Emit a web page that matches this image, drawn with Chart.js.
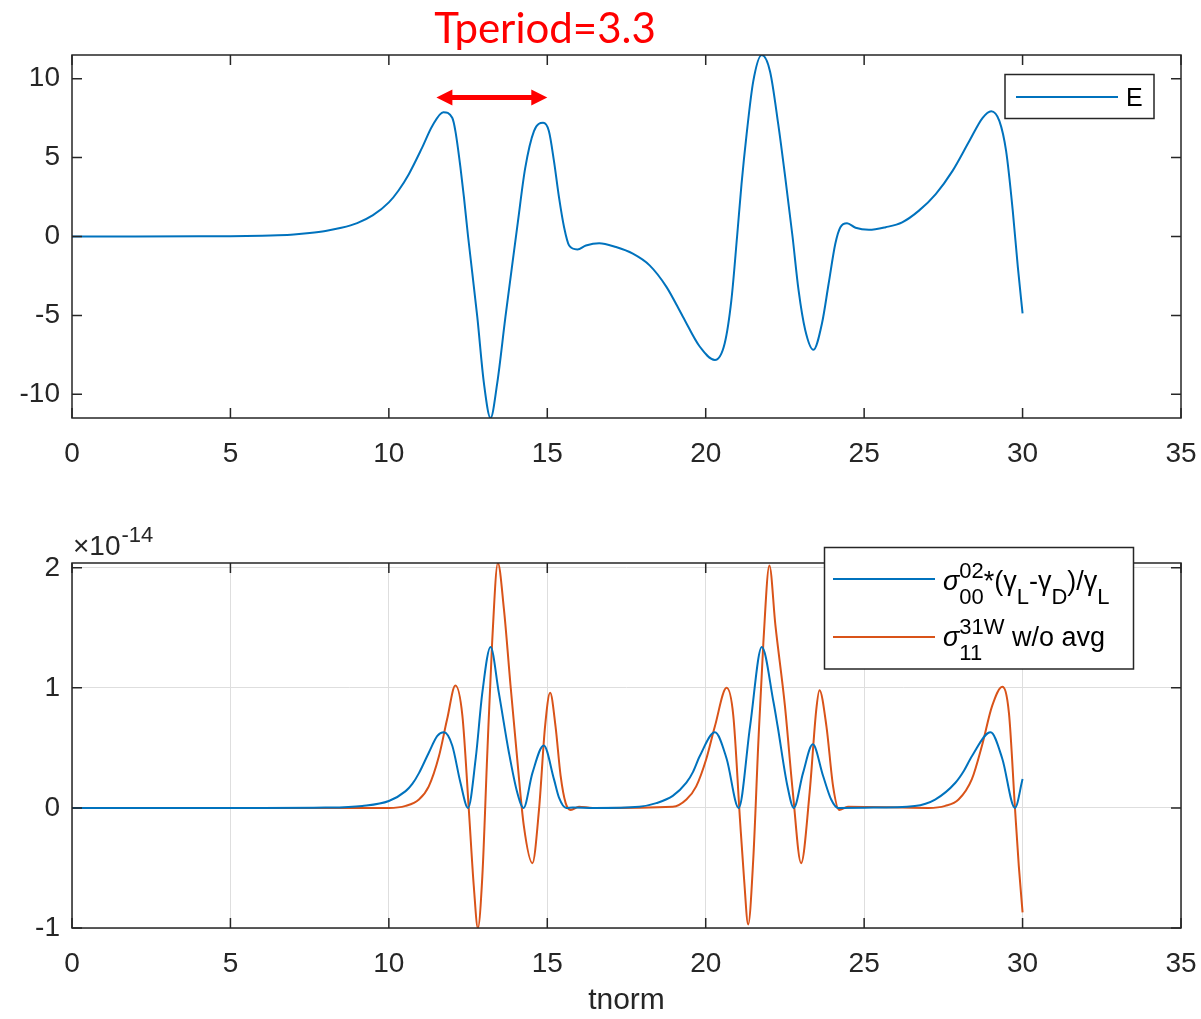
<!DOCTYPE html>
<html>
<head>
<meta charset="utf-8">
<script src="https://cdn.jsdelivr.net/npm/chart.js@4.4.1/dist/chart.umd.min.js"></script>
<style>
  html, body { margin: 0; padding: 0; background: #fff; }
  #wrap { position: relative; width: 1201px; height: 1019px; }
  .panel { position: absolute; left: 0; width: 1201px; }
  #top { top: 0; height: 500px; }
  #bottom { top: 500px; height: 519px; }
</style>
</head>
<body>
<div id="wrap">
  <div class="panel" id="top"><canvas id="fieldChart" width="1201" height="500"></canvas></div>
  <div class="panel" id="bottom"><canvas id="sigmaChart" width="1201" height="519"></canvas></div>
</div>
<script>
// field E against tnorm
const tField = [0, 2, 4, 5, 6, 6.5, 7, 7.5, 8, 8.5, 9, 9.5, 10, 10.3, 10.63, 11.05, 11.37, 11.72, 12.0,
  12.1, 12.26, 12.37, 12.5, 12.79, 13.0, 13.21, 13.42, 13.68, 13.88, 14.07, 14.3, 14.58, 14.87, 15.05,
  15.21, 15.37, 15.53, 15.69, 15.95, 16.22, 16.64, 17.17, 17.7, 18.23, 18.76, 19.28, 19.81, 20.29,
  20.6, 20.81, 20.99, 21.13, 21.29, 21.5, 21.77, 22.03, 22.29, 22.51, 22.74, 22.93, 23.14, 23.4,
  23.67, 23.88, 24.09, 24.25, 24.46, 24.73, 25.15, 25.68, 26.2, 26.73, 27.26, 27.79, 28.32, 28.74,
  29.01, 29.27, 29.48, 29.69, 29.85, 30];
const eField = [0, 0, 0.01, 0.02, 0.05, 0.08, 0.13, 0.22, 0.35, 0.55, 0.85, 1.35, 2.16, 2.9, 3.95, 5.63,
  7.0, 7.88, 7.52, 6.68, 4.37, 2.48, 0, -5.08, -9.29, -11.5, -9.29, -5.08, -2.0, 0.9, 4.3, 6.68,
  7.2, 6.68, 4.79, 2.48, 0.59, -0.57, -0.82, -0.57, -0.42, -0.67, -1.09, -1.83, -3.19, -5.08,
  -6.97, -7.82, -6.76, -4.03, 0, 3.32, 6.47, 9.83, 11.5, 10.46, 7.1, 3.74, 0, -3.4, -5.92, -7.18,
  -5.5, -2.98, -0.46, 0.59, 0.84, 0.55, 0.42, 0.59, 0.9, 1.64, 2.69, 4.16, 6.05, 7.52, 7.94, 7.31,
  5.42, 1.64, -1.93, -4.87];

// sigma00^02*(gL-gD)/gL, in units of 1e-14
const tSigma00 = [0, 6, 8, 9.16, 10, 10.53, 10.74, 10.95, 11.26, 11.53, 11.74, 12.0, 12.26, 12.5, 12.74,
  12.95, 13.21, 13.47, 13.79, 14.05, 14.25, 14.53, 14.89, 15.21, 15.37, 15.6, 15.8, 16.5, 17.9, 18.44,
  18.96, 19.39, 19.6, 19.81, 20.29, 20.66, 21.04, 21.4, 21.77, 22.14, 22.27, 22.58, 22.78, 23.07,
  23.38, 23.7, 23.96, 24.18, 25, 26.6, 27.24, 27.88, 28.15, 28.4, 28.99, 29.36, 29.76, 30];
const sigma00 = [0, 0, 0.003, 0.017, 0.058, 0.14, 0.2, 0.29, 0.46, 0.6, 0.63, 0.52, 0.21, 0, 0.41,
  0.96, 1.34, 0.96, 0.46, 0.13, 0, 0.29, 0.52, 0.24, 0.086, 0, 0.003, 0, 0.01, 0.04,
  0.1, 0.21, 0.3, 0.43, 0.63, 0.41, 0, 0.68, 1.34, 0.88, 0.68, 0.18, 0, 0.29,
  0.53, 0.27, 0.07, 0, 0.002, 0.017, 0.07, 0.21, 0.31, 0.43, 0.63, 0.41, 0, 0.24];

// sigma11^31W without averaging, in units of 1e-14
const tSigma11 = [0, 9, 10, 10.53, 10.95, 11.26, 11.58, 11.84, 12.1, 12.32, 12.53, 12.68, 12.81, 12.95,
  13.1, 13.26, 13.44, 13.63, 13.84, 14.05, 14.26, 14.53, 14.74, 14.93, 15.09, 15.26, 15.42, 15.58,
  15.74, 16.0, 16.43, 18.96, 19.39, 19.7, 20.02, 20.29, 20.66, 20.87, 21.08, 21.21, 21.34, 21.5,
  21.66, 21.82, 22.01, 22.2, 22.5, 22.75, 23.01, 23.28, 23.49, 23.59, 23.81, 24.02, 24.21, 24.49,
  27.03, 27.56, 27.98, 28.4, 28.72, 29.04, 29.36, 29.57, 29.76, 29.88, 30];
const sigma11 = [0, 0, 0, 0.017, 0.07, 0.18, 0.43, 0.74, 1.02, 0.77, -0.04, -0.65, -1.0, -0.57,
  0.41, 1.38, 2.04, 1.66, 1.02, 0.41, -0.15, -0.46, -0.01, 0.68, 0.96, 0.68, 0.27, 0.04,
  -0.017, 0.01, 0, 0.01, 0.07, 0.18, 0.41, 0.68, 1.0, 0.77, -0.09, -0.59, -0.97, -0.43,
  0.54, 1.38, 2.02, 1.52, 0.85, 0.13, -0.46, 0.13, 0.82, 0.98, 0.68, 0.18, -0.017, 0.01,
  0, 0.017, 0.07, 0.24, 0.52, 0.85, 1.01, 0.79, 0, -0.48, -0.87];

const xRange = [0, 35];
const fieldRange = [-11.5, 11.5];
const sigmaRange = [-1, 2.04];
const periodLabel = 'Tperiod=3.3';
const periodArrow = { from: 11.5, to: 15.0, level: 8.8 };

const BLUE = '#0072BD';
const ORANGE = '#D95319';
const INK = '#262626';
const FONT = '"Liberation Sans", Arial, sans-serif';

function pts(xs, ys) { return xs.map((x, i) => ({ x: x, y: ys[i] })); }

// box around the plot area with inward ticks on all four sides
const axesBox = {
  id: 'axesBox',
  afterDatasetsDraw(chart) {
    const { ctx, chartArea: a, scales: { x, y } } = chart;
    const len = 10;
    ctx.save();
    ctx.strokeStyle = INK;
    ctx.lineWidth = 1.5;
    ctx.beginPath();
    x.ticks.forEach(t => {
      const px = x.getPixelForValue(t.value);
      ctx.moveTo(px, a.bottom); ctx.lineTo(px, a.bottom - len);
      ctx.moveTo(px, a.top); ctx.lineTo(px, a.top + len);
    });
    y.ticks.forEach(t => {
      const py = y.getPixelForValue(t.value);
      ctx.moveTo(a.left, py); ctx.lineTo(a.left + len, py);
      ctx.moveTo(a.right, py); ctx.lineTo(a.right - len, py);
    });
    ctx.stroke();
    ctx.strokeRect(a.left, a.top, a.right - a.left, a.bottom - a.top);
    ctx.restore();
  }
};

function legendFrame(ctx, x, y, w, h) {
  ctx.fillStyle = '#fff';
  ctx.fillRect(x, y, w, h);
  ctx.strokeStyle = INK;
  ctx.lineWidth = 1.5;
  ctx.strokeRect(x, y, w, h);
}

function legendLine(ctx, x0, x1, y, color) {
  ctx.strokeStyle = color;
  ctx.lineWidth = 2;
  ctx.beginPath();
  ctx.moveTo(x0, y); ctx.lineTo(x1, y);
  ctx.stroke();
}

// text with TeX-like stacked super/subscripts
function drawRich(ctx, x, base, runs) {
  const main = '27px ' + FONT, ital = 'italic 27px ' + FONT, script = '22px ' + FONT;
  runs.forEach(r => {
    if (r.sup !== undefined || r.sub !== undefined) {
      ctx.font = script;
      let w = 0;
      if (r.sup) { ctx.fillText(r.sup, x, base - 12); w = ctx.measureText(r.sup).width; }
      if (r.sub) { ctx.fillText(r.sub, x, base + 14); w = Math.max(w, ctx.measureText(r.sub).width); }
      x += w;
    } else {
      ctx.font = r.italic ? ital : main;
      ctx.fillText(r.text, x, base);
      x += ctx.measureText(r.text).width;
    }
  });
}

const fieldDecor = {
  id: 'fieldDecor',
  afterDraw(chart) {
    const { ctx, scales: { x, y } } = chart;
    ctx.save();
    // period annotation
    ctx.fillStyle = '#FF0000';
    ctx.font = '42px Lato, "Noto Sans", sans-serif';
    ctx.textAlign = 'center';
    ctx.textBaseline = 'alphabetic';
    ctx.fillText(periodLabel, 545, 43);
    const x0 = x.getPixelForValue(periodArrow.from);
    const x1 = x.getPixelForValue(periodArrow.to);
    const py = y.getPixelForValue(periodArrow.level);
    const head = 16, half = 8;
    ctx.strokeStyle = '#FF0000';
    ctx.lineWidth = 5;
    ctx.beginPath();
    ctx.moveTo(x0 + head - 2, py); ctx.lineTo(x1 - head + 2, py);
    ctx.stroke();
    ctx.beginPath();
    ctx.moveTo(x0, py); ctx.lineTo(x0 + head, py - half); ctx.lineTo(x0 + head, py + half); ctx.closePath();
    ctx.moveTo(x1, py); ctx.lineTo(x1 - head, py - half); ctx.lineTo(x1 - head, py + half); ctx.closePath();
    ctx.fill();
    // legend
    legendFrame(ctx, 1005, 74.5, 149, 44);
    legendLine(ctx, 1016, 1118, 97, BLUE);
    ctx.fillStyle = '#000';
    ctx.font = '25px ' + FONT;
    ctx.textAlign = 'left';
    ctx.fillText('E', 1126, 106);
    ctx.restore();
  }
};

const sigmaDecor = {
  id: 'sigmaDecor',
  afterDraw(chart) {
    const { ctx } = chart;
    ctx.save();
    ctx.fillStyle = INK;
    ctx.textBaseline = 'alphabetic';
    ctx.textAlign = 'left';
    ctx.font = '28px ' + FONT;
    ctx.fillText('\u00d710', 73, 55);
    const w = ctx.measureText('\u00d710').width;
    ctx.font = '22px ' + FONT;
    ctx.fillText('-14', 73 + w + 1, 42);
    // legend
    legendFrame(ctx, 824.5, 47.5, 309, 121.5);
    legendLine(ctx, 833, 935, 79, BLUE);
    legendLine(ctx, 833, 935, 137, ORANGE);
    ctx.fillStyle = '#000';
    drawRich(ctx, 943, 90, [
      { text: '\u03c3', italic: true }, { sup: '02', sub: '00' }, { text: '*(\u03b3' }, { sub: 'L' },
      { text: '-\u03b3' }, { sub: 'D' }, { text: ')/\u03b3' }, { sub: 'L' }
    ]);
    drawRich(ctx, 943, 146, [
      { text: '\u03c3', italic: true }, { sup: '31W', sub: '11' }, { text: ' w/o avg' }
    ]);
    ctx.restore();
  }
};

function xAxis(height, withGrid, title) {
  return {
    type: 'linear', min: xRange[0], max: xRange[1],
    grid: { display: withGrid, drawTicks: false, color: '#dedede', lineWidth: 1 },
    border: { display: false },
    ticks: { stepSize: 5, autoSkip: false, maxRotation: 0, padding: 19, color: INK,
      font: { family: FONT, size: 28 } },
    title: title ? { display: true, text: title, color: INK, font: { family: FONT, size: 30 },
      padding: { top: 0, bottom: 0 } } : { display: false },
    afterFit(scale) {
      scale.height = height;
      scale.paddingLeft = 0;
      scale.paddingRight = 0;
    }
  };
}

function yAxis(range, withGrid) {
  return {
    type: 'linear', min: range[0], max: range[1],
    grid: { display: withGrid, drawTicks: false, color: '#dedede', lineWidth: 1 },
    border: { display: false },
    ticks: { stepSize: range[1] > 5 ? 5 : 1, includeBounds: false, padding: 12, color: INK,
      font: { family: FONT, size: 28 } },
    afterFit(scale) { scale.width = 72; }
  };
}

const line = (label, data, color) => ({
  label: label, data: data, borderColor: color, borderWidth: 2,
  pointRadius: 0, fill: false, cubicInterpolationMode: 'monotone'
});

new Chart(document.getElementById('fieldChart'), {
  type: 'line',
  data: { datasets: [line('E', pts(tField, eField), BLUE)] },
  options: {
    responsive: false, animation: false, devicePixelRatio: 1,
    layout: { padding: { left: 0, right: 20, top: 55, bottom: 0 } },
    plugins: { legend: { display: false }, tooltip: { enabled: false } },
    scales: { x: xAxis(82, false), y: yAxis(fieldRange, false) }
  },
  plugins: [axesBox, fieldDecor]
});

new Chart(document.getElementById('sigmaChart'), {
  type: 'line',
  data: { datasets: [
    line('sigma00', pts(tSigma00, sigma00), BLUE),
    line('sigma11', pts(tSigma11, sigma11), ORANGE)
  ] },
  options: {
    responsive: false, animation: false, devicePixelRatio: 1,
    layout: { padding: { left: 0, right: 20, top: 63, bottom: 0 } },
    plugins: { legend: { display: false }, tooltip: { enabled: false } },
    scales: { x: xAxis(91, true, 'tnorm'), y: yAxis(sigmaRange, true) }
  },
  plugins: [axesBox, sigmaDecor]
});
</script>
</body>
</html>
